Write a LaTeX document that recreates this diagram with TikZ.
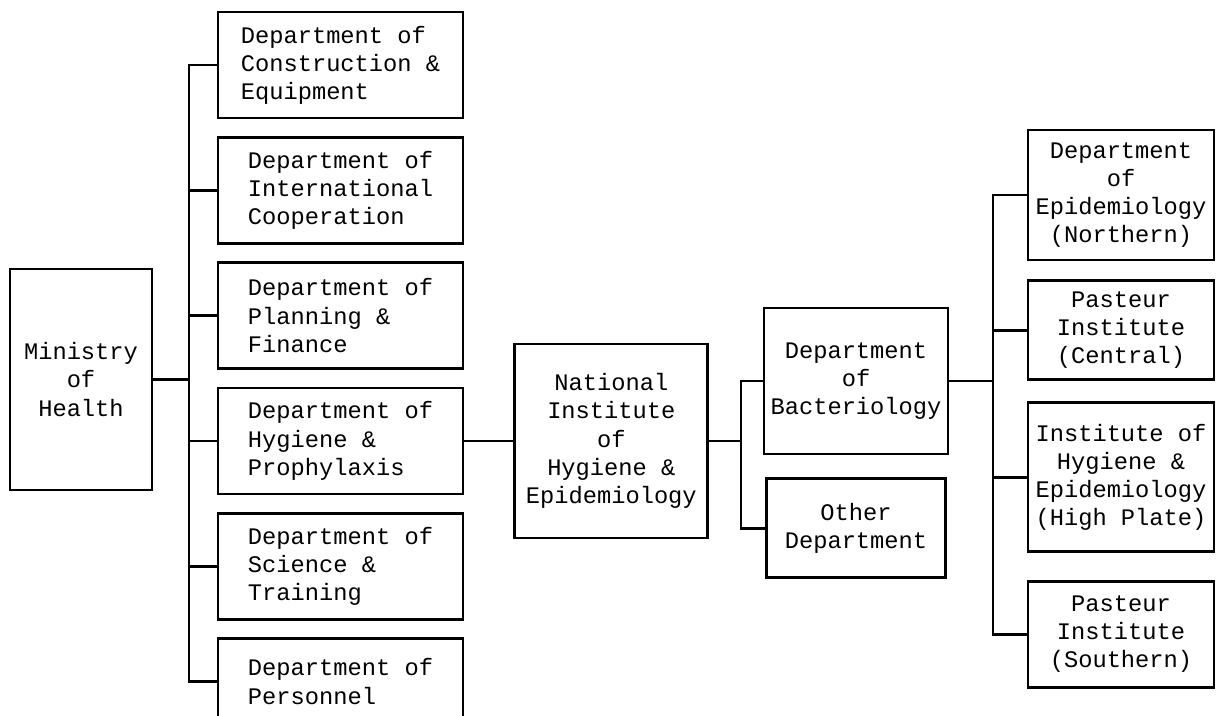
\documentclass[tikz,border=0pt]{standalone}
\usepackage{fontspec}
\newfontfamily\cour{Liberation Mono}
\usetikzlibrary{positioning}
\newcommand{\boxfont}{\cour\fontsize{13.5}{16}\selectfont}

\begin{document}
\begin{tikzpicture}[every node/.style={draw, line width=1.6pt, font=\boxfont, align=center, inner xsep=2pt},
	dept/.style={align=left, minimum width=4.9cm, minimum height=2.12cm},
	inst/.style={minimum width=3.72cm},
	line width=1.6pt, line cap=rect]
	\useasboundingbox (0,0) rectangle (24.32,14.32);
	
	\coordinate (bus1) at (3.78,0);
	\coordinate (bus2) at (14.82,0);
	\coordinate (bus3) at (19.86,0);
	
	\node [minimum width=2.84cm, minimum height=4.42cm] (min) at (1.62,6.73) {Ministry\\of\\Health};
	
	\node [dept] (con) at (6.81,13.02) {Department of\\Construction \&\\Equipment};
	\node [dept, below=0.33cm of con] (int) {Department of\\International\\Cooperation};
	\node [dept, below=0.33cm of int] (pla) {Department of\\Planning \&\\Finance};
	\node [dept, below=0.33cm of pla] (hyg) {Department of\\Hygiene \&\\Prophylaxis};
	\node [dept, below=0.33cm of hyg] (sci) {Department of\\Science \&\\Training};
	\node [dept, below=0.33cm of sci, minimum height=1.72cm] (per) {Department of\\Personnel};
	
	\node [minimum width=3.86cm, minimum height=3.88cm, right=0.98cm of hyg] (nat) {National\\Institute\\of\\Hygiene \&\\Epidemiology};
	
	\node [minimum width=3.68cm, minimum height=2.92cm] (bac) at (17.12,6.70) {Department\\of\\Bacteriology};
	\node [minimum width=3.58cm, minimum height=1.98cm, below=0.44cm of bac] (oth) {Other\\Department};
	
	\node [inst, minimum height=2.6cm] (nor) at (22.42,10.42) {Department\\of\\Epidemiology\\(Northern)};
	\node [inst, minimum height=1.98cm, below=0.36cm of nor] (cen) {Pasteur\\Institute\\(Central)};
	\node [inst, minimum height=2.98cm, below=0.4cm of cen] (hig) {Institute of\\Hygiene \&\\Epidemiology\\(High Plate)};
	\node [inst, minimum height=2.12cm, below=0.54cm of hig] (sou) {Pasteur\\Institute\\(Southern)};
	
	\draw (min.east) -- (min.east -| bus1);
	\draw (bus1 |- con.west) -- (bus1 |- per.west);
	\foreach \n in {con,int,pla,hyg,sci,per}
		\draw (bus1 |- \n.west) -- (\n.west);
	
	\draw (hyg.east) -- (nat.west);
	
	\draw (nat.east) -- (nat.east -| bus2);
	\draw (bus2 |- bac.west) -- (bus2 |- oth.west);
	\draw (bus2 |- bac.west) -- (bac.west);
	\draw (bus2 |- oth.west) -- (oth.west);
	
	\draw (bac.east) -- (bac.east -| bus3);
	\draw (bus3 |- nor.west) -- (bus3 |- sou.west);
	\foreach \n in {nor,cen,hig,sou}
		\draw (bus3 |- \n.west) -- (\n.west);
\end{tikzpicture}
\end{document}
